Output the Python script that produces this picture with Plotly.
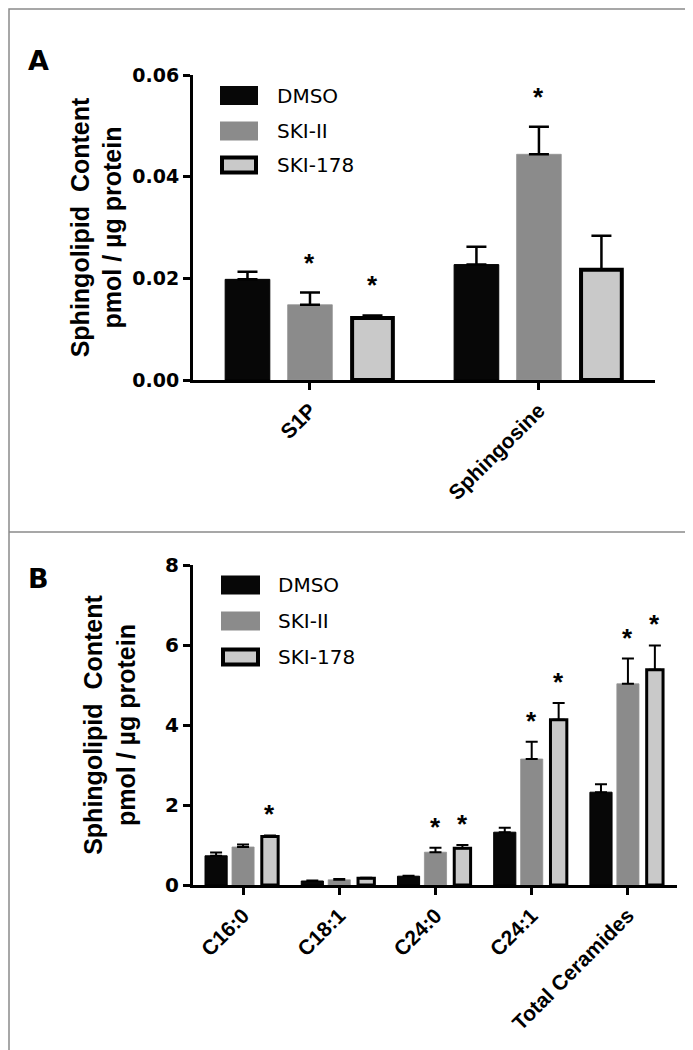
import plotly.graph_objects as go

# ---------------- data ----------------
series_names = ["DMSO", "SKI-II", "SKI-178"]

cats_a = ["S1P", "Sphingosine"]
dmso_a = [0.0198, 0.0227]
dmso_a_err = [0.0015, 0.0035]
ski2_a = [0.0148, 0.0444]
ski2_a_err = [0.0024, 0.0054]
ski178_a = [0.0122, 0.0217]
ski178_a_err = [0.0005, 0.0067]
sig_dmso_a = [False, False]
sig_ski2_a = [True, True]
sig_ski178_a = [True, False]
ticks_a = [0.0, 0.02, 0.04, 0.06]

cats_b = ["C16:0", "C18:1", "C24:0", "C24:1", "Total Ceramides"]
dmso_b = [0.73, 0.10, 0.22, 1.32, 2.32]
dmso_b_err = [0.08, 0.01, 0.01, 0.11, 0.20]
ski2_b = [0.95, 0.13, 0.82, 3.15, 5.03]
ski2_b_err = [0.06, 0.02, 0.11, 0.43, 0.63]
ski178_b = [1.21, 0.17, 0.92, 4.13, 5.38]
ski178_b_err = [0.03, 0.01, 0.08, 0.42, 0.61]
sig_dmso_b = [False, False, False, False, False]
sig_ski2_b = [False, False, True, True, True]
sig_ski178_b = [True, False, True, True, True]
ticks_b = [0, 2, 4, 6, 8]

y_title = "Sphingolipid\u00a0 Content<br>pmol / \u00b5g protein"

# ---------------- styling / layout helpers ----------------
W, H = 693, 1050
FONT = "Liberation Sans, Arial, Helvetica, sans-serif"
WIDE = "DejaVu Sans, Verdana, sans-serif"


def px(x):
    return x / W


def py(y):
    return 1 - y / H


fills = ["#070707", "#8b8b8b", "#c9c9c9"]
edge_cols = ["#000000", "#939393", "#000000"]

panels = [
    dict(cats=cats_a, vals=[dmso_a, ski2_a, ski178_a],
         errs=[dmso_a_err, ski2_a_err, ski178_a_err],
         sigs=[sig_dmso_a, sig_ski2_a, sig_ski178_a],
         ticks=ticks_a, fmt=".2f", xr=[-0.511, 1.507],
         xdom=[px(185), px(647)], ydom=[py(372), py(67)],
         widths=[0.195, 0.195, 0.178], lws=[1, 0.8, 4], pitch=0.273,
         cap=10, ethick=2.5, star_shift=30, standoff=4, tickfs=19,
         legend_x=(212, 250, 267), legend_y=[87.5, 123, 157],
         label="A", label_y=52),
    dict(cats=cats_b, vals=[dmso_b, ski2_b, ski178_b],
         errs=[dmso_b_err, ski2_b_err, ski178_b_err],
         sigs=[sig_dmso_b, sig_ski2_b, sig_ski178_b],
         ticks=ticks_b, fmt="d", xr=[-0.52, 4.51],
         xdom=[px(185), px(669)], ydom=[py(877), py(557)],
         widths=[0.23, 0.23, 0.17], lws=[1, 0.8, 3], pitch=0.28,
         cap=6, ethick=2, star_shift=21, standoff=23, tickfs=20,
         legend_x=(213, 252, 268), legend_y=[577, 613, 649],
         label="B", label_y=570),
]

fig = go.Figure()
annotations = []
shapes = []

for pi, p in enumerate(panels):
    sfx = "" if pi == 0 else str(pi + 1)
    xref, yref = "x" + sfx, "y" + sfx
    for k, name in enumerate(series_names):
        w = p["widths"][k]
        off = (k - 1) * p["pitch"]
        fig.add_trace(go.Bar(
            x=p["cats"], y=p["vals"][k], name=name,
            xaxis=xref, yaxis=yref,
            width=w, offset=off - w / 2,
            marker=dict(color=fills[k],
                        line=dict(color=edge_cols[k], width=p["lws"][k])),
            error_y=dict(type="data", symmetric=False,
                         array=p["errs"][k],
                         arrayminus=[0] * len(p["cats"]),
                         color="#000000", thickness=p["ethick"],
                         width=p["cap"]),
            showlegend=False,
        ))
        for i, cat in enumerate(p["cats"]):
            if p["sigs"][k][i]:
                annotations.append(dict(
                    x=i + off, y=p["vals"][k][i] + p["errs"][k][i],
                    xref=xref, yref=yref, text="*", showarrow=False,
                    xanchor="center", yanchor="middle",
                    yshift=p["star_shift"],
                    font=dict(family=FONT, size=26, color="#000000",
                              weight="bold")))

    axis_common = dict(showline=True, linecolor="#000000", linewidth=3,
                       ticks="outside", ticklen=7, tickwidth=2.5,
                       tickcolor="#000000", showgrid=False, zeroline=False,
                       automargin=False, fixedrange=True)
    fig.update_layout(**{
        "xaxis" + sfx: dict(axis_common, domain=p["xdom"], range=p["xr"],
                            type="category", anchor=yref, tickangle=-45,
                            tickfont=dict(family=FONT, size=21,
                                          color="#000000", weight="bold")),
        "yaxis" + sfx: dict(axis_common, domain=p["ydom"],
                            range=[p["ticks"][0], p["ticks"][-1]],
                            tickvals=p["ticks"], tickformat=p["fmt"],
                            anchor=xref,
                            tickfont=dict(family=WIDE, size=p["tickfs"],
                                          color="#000000", weight="bold"),
                            title=dict(text=y_title, standoff=p["standoff"],
                                       font=dict(family=FONT, size=25,
                                                 color="#000000",
                                                 weight="bold"))),
    })

    # custom legend
    x0, x1, xt = p["legend_x"]
    for k, name in enumerate(series_names):
        yc = p["legend_y"][k]
        lw = 4 if k == 2 else 0
        shapes.append(dict(
            type="rect", xref="paper", yref="paper",
            x0=px(x0 + lw / 2), x1=px(x1 - lw / 2),
            y0=py(yc + 9.5 - lw / 2), y1=py(yc - 9.5 + lw / 2),
            fillcolor=fills[k],
            line=dict(color="#000000" if k != 1 else fills[k],
                      width=lw if lw else 0)))
        annotations.append(dict(
            x=px(xt), y=py(yc), xref="paper", yref="paper",
            text=name, showarrow=False, xanchor="left", yanchor="middle",
            font=dict(family=WIDE, size=20, color="#000000")))

    annotations.append(dict(
        x=px(30), y=py(p["label_y"]), xref="paper", yref="paper",
        text=p["label"], showarrow=False, xanchor="center", yanchor="middle",
        font=dict(family=WIDE, size=27, color="#000000", weight="bold")))

# frame and divider
shapes.append(dict(type="rect", xref="paper", yref="paper",
                   x0=px(1), x1=px(691.5), y0=py(1048.5), y1=py(1),
                   line=dict(color="#8a8a8a", width=1.5)))
shapes.append(dict(type="line", xref="paper", yref="paper",
                   x0=px(1), x1=px(691.5), y0=py(524), y1=py(524),
                   line=dict(color="#8a8a8a", width=1.5)))

fig.update_layout(
    width=W, height=H, autosize=False,
    margin=dict(l=0, r=0, t=0, b=0, pad=0),
    paper_bgcolor="#ffffff", plot_bgcolor="#ffffff",
    barmode="overlay", showlegend=False,
    annotations=annotations, shapes=shapes,
    font=dict(family=FONT, color="#000000"),
)

fig.write_html("out.html")
